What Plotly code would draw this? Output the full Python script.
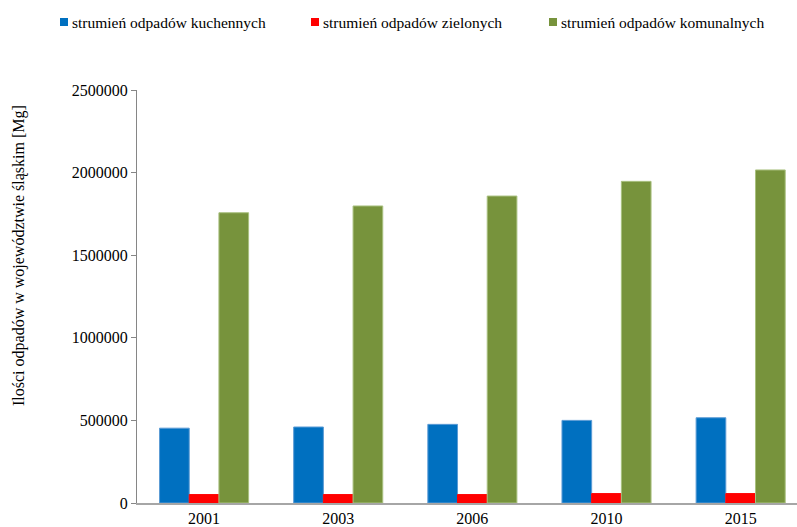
import plotly.graph_objects as go

years = ["2001", "2003", "2006", "2010", "2015"]
kuchenne = [453000, 460000, 476000, 500000, 516000]
zielone = [51000, 51000, 51000, 57000, 57000]
komunalne = [1757000, 1798000, 1858000, 1947000, 2016000]

names = ["strumień odpadów kuchennych", "strumień odpadów zielonych", "strumień odpadów komunalnych"]
colors = ["#0070C0", "#FF0000", "#77933C"]
edges = ["#5B9BD5", "#FF0000", "#A9C07F"]

FONT = "Liberation Serif"

# plot area in pixels (for legend/title placement)
L, R, T, B = 137, 797, 90, 503
W, H = R - L, B - T


def px(xp):
    return (xp - L) / W


def py(yp):
    return (B - yp) / H


fig = go.Figure()
for name, vals, c, e in zip(names, [kuchenne, zielone, komunalne], colors, edges):
    fig.add_trace(go.Bar(x=years, y=vals, name=name, showlegend=False,
                         marker=dict(color=c, line=dict(color=e, width=1))))

# manual legend (squares + labels)
leg_x = [60, 311, 549]
shapes = []
annotations = []
for name, c, lx in zip(names, colors, leg_x):
    shapes.append(dict(type="rect", xref="paper", yref="paper",
                       x0=px(lx), x1=px(lx + 8), y0=py(26), y1=py(18),
                       fillcolor=c, line=dict(width=0)))
    annotations.append(dict(text=name, xref="paper", yref="paper", x=px(lx + 10), y=py(22),
                            xanchor="left", yanchor="middle", showarrow=False,
                            font=dict(family=FONT, size=15.5, color="#000000")))

annotations.append(dict(text="Ilości odpadów w województwie śląskim [Mg]", xref="paper", yref="paper",
                        x=px(19), y=py(256), xanchor="center", yanchor="middle", textangle=-90,
                        showarrow=False, font=dict(family=FONT, size=16, color="#000000")))

fig.update_layout(
    width=797, height=527,
    margin=dict(l=L, r=797 - R, t=T, b=527 - B),
    paper_bgcolor="white", plot_bgcolor="white",
    font=dict(family=FONT, size=16, color="#000000"),
    barmode="group", bargap=0.336, bargroupgap=0,
    showlegend=False,
    shapes=shapes,
    annotations=annotations,
    xaxis=dict(type="category", range=[-0.5, 4.42], showline=True, linecolor="#A6A6A6", linewidth=2,
               ticks="", showgrid=False, tickfont=dict(size=16)),
    yaxis=dict(range=[0, 2500000], dtick=500000, showline=True, linecolor="#868686", linewidth=1,
               ticks="outside", ticklen=5, tickcolor="#868686", showgrid=False, zeroline=False,
               tickformat="d", tickfont=dict(size=16)),
)

fig.write_html("out.html")
